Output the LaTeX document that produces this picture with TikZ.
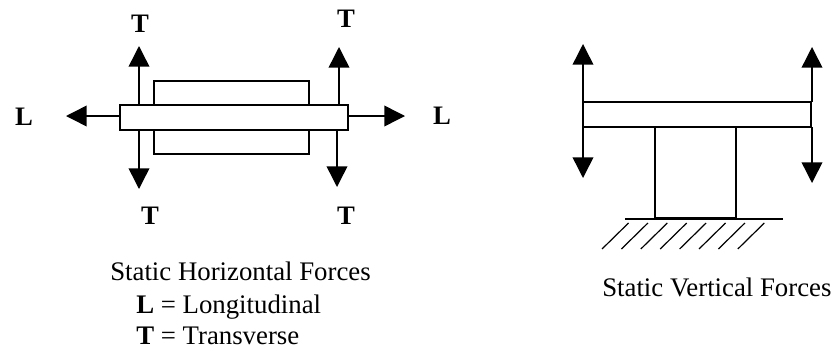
\documentclass[tikz,border=0pt]{standalone}
\usepackage{fontspec}
\setmainfont{Liberation Serif}
\usetikzlibrary{arrows.meta}
\tikzset{
  part/.style={draw=black,line width=1.1pt,fill=white,inner sep=0pt,outer sep=0pt},
  force/.style={draw=black,line width=1.1pt,-{Triangle[length=15.5pt,width=15.5pt]}},
  lbl/.style={font=\fontsize{20}{24}\selectfont\bfseries,inner sep=0pt,text=black},
  captext/.style={font=\fontsize{20.1}{24}\selectfont,inner sep=0pt,text=black,anchor=base west},
  hatch/.style={draw=black,line width=0.9pt},
}
\begin{document}
\begin{tikzpicture}[x=0.75pt,y=-0.75pt]
\useasboundingbox (0,0) rectangle (837,350);
% left figure
\node[part,minimum width=116.25pt,minimum height=54.75pt] (block) at (231.5,117.5) {};
\node[part,minimum width=171pt,minimum height=18.75pt] (plate) at (234,117.5) {};
\coordinate (tul) at (139,46); \coordinate (tur) at (339,47);
\coordinate (tdl) at (139,189); \coordinate (tdr) at (337,187);
\coordinate (ll) at (66,116); \coordinate (lr) at (405,116);
\draw[force] (139,105) -- (tul);
\draw[force] (339,105) -- (tur);
\draw[force] (139,130) -- (tdl);
\draw[force] (337,130) -- (tdr);
\draw[force] (plate.west |- ll) -- (ll);
\draw[force] (plate.east |- lr) -- (lr);
\node[lbl] (t1) at (140,24) {T};
\node[lbl] (t2) at (346,19) {T};
\node[lbl] (t3) at (150,216) {T};
\node[lbl] (t4) at (346,216) {T};
\node[lbl] (l1) at (24,117) {L};
\node[lbl] (l2) at (442,116) {L};
\node[captext] (capa) at (110,280) {Static Horizontal Forces};
\node[captext] (capb) at (136,313) {\textbf{L} = Longitudinal};
\node[captext] (capc) at (136,344) {\textbf{T} = Transverse};
% right figure
\draw[part] (655,127) rectangle (736,218);
\node[part,minimum width=171pt,minimum height=18.75pt] (plate2) at (697,114.5) {};
\coordinate (al) at (583,44); \coordinate (ar) at (812,47);
\coordinate (bl) at (583,178); \coordinate (br) at (812,183);
\draw[force] (583,102) -- (al);
\draw[force] (812,102) -- (ar);
\draw[force] (583,127) -- (bl);
\draw[force] (812,127) -- (br);
\draw[draw=black,line width=1.2pt] (625,219) -- (783,219);
\foreach \i in {0,...,7}{
  \draw[hatch] ({602+19.4*\i},249) -- ({628.5+19.4*\i},223);
}
\node[captext] (capr) at (602,296) {Static Vertical Forces};
\end{tikzpicture}
\end{document}
